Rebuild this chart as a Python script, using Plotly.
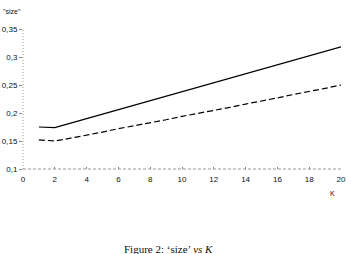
import plotly.graph_objects as go

K = list(range(1, 21))
size_solid = [0.175, 0.174, 0.182, 0.190, 0.198, 0.206, 0.214, 0.222, 0.230, 0.238,
              0.246, 0.254, 0.262, 0.270, 0.278, 0.286, 0.294, 0.302, 0.310, 0.318]
size_dashed = [0.152, 0.150, 0.155, 0.160, 0.166, 0.172, 0.177, 0.183, 0.188, 0.194,
               0.199, 0.205, 0.210, 0.216, 0.221, 0.227, 0.233, 0.238, 0.244, 0.250]

x_ticks = [0, 2, 4, 6, 8, 10, 12, 14, 16, 18, 20]
y_ticks = [0.1, 0.15, 0.2, 0.25, 0.3, 0.35]
y_labels = ["0,1", "0,15", "0,2", "0,25", "0,3", "0,35"]

W, H = 351, 254
l, r, t, b = 23, 10, 29, 85
pw, ph = W - l - r, H - t - b

fig = go.Figure()
fig.add_trace(go.Scatter(x=K, y=size_solid, mode="lines",
                         line=dict(color="black", width=1.2), showlegend=False))
fig.add_trace(go.Scatter(x=K, y=size_dashed, mode="lines",
                         line=dict(color="black", width=1.2, dash="6px,3px"), showlegend=False))

tick_font = dict(family="Liberation Sans, Arial, sans-serif", size=8, color="#111")
fig.update_layout(
    width=W, height=H,
    margin=dict(l=l, r=r, t=t, b=b, autoexpand=False),
    paper_bgcolor="white", plot_bgcolor="white",
    xaxis=dict(range=[0, 20], tickvals=x_ticks, ticktext=[str(v) for v in x_ticks],
               showgrid=False, zeroline=False, showline=False, automargin=False,
               ticks="inside", ticklen=2, tickcolor="#888",
               tickfont=tick_font, ticklabelstandoff=4),
    yaxis=dict(range=[0.1, 0.35], tickvals=y_ticks, ticktext=y_labels,
               showgrid=False, zeroline=False, showline=False, automargin=False,
               ticks="outside", ticklen=3, tickcolor="#888",
               tickfont=tick_font),
    shapes=[
        dict(type="line", xref="paper", yref="paper", x0=0, x1=1, y0=0, y1=0,
             line=dict(color="#999", width=1, dash="3px,2px"), layer="below"),
        dict(type="line", xref="paper", yref="paper", x0=0, x1=0, y0=0, y1=1,
             line=dict(color="#999", width=1, dash="1px,2px"), layer="below"),
    ],
)
anns = []
fonts = [dict(family="Liberation Sans, Arial, sans-serif", size=7, color="#111"),
         dict(family="Liberation Sans, Arial, sans-serif", size=7, color="#111"),
         dict(family="Liberation Serif, serif", size=11, color="#111")]
pos = [(12, 11), (332, 193), (168, 249)]
texts = ['"size"', "K", "Figure 2: ‘size’ <i>vs</i> <i>K</i>"]
for (px, py), txt, f in zip(pos, texts, fonts):
    anns.append(dict(text=txt, x=(px - l) / pw, y=(H - b - py) / ph, xref="paper", yref="paper",
                     showarrow=False, font=f, xanchor="center", yanchor="middle"))
fig.update_layout(annotations=anns)
fig.write_html("out.html")
